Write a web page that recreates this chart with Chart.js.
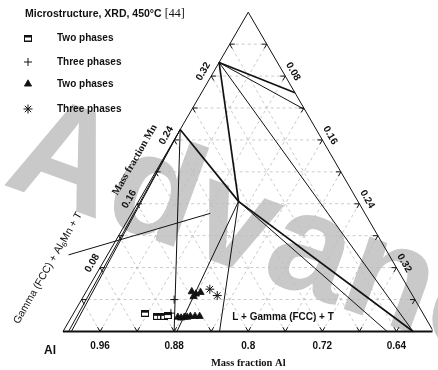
<!DOCTYPE html>
<html>
<head>
<meta charset="utf-8">
<script src="https://cdn.jsdelivr.net/npm/chart.js@4.4.1/dist/chart.umd.min.js"></script>
<style>
  html, body { margin: 0; padding: 0; background: #fff; }
  #wrap { width: 438px; height: 370px; position: relative; }
</style>
</head>
<body>
<div id="wrap"><canvas id="ternary"></canvas></div>
<script>
// compositions as mass fractions [Al, Mn]; the third element is 1 - Al - Mn
const twoPhaseSq = [[0.900, 0.023], [0.889, 0.019], [0.885, 0.019], [0.881, 0.019], [0.877, 0.020]];
const threePhaseCross = [[0.860, 0.040], [0.872, 0.023]];
const twoPhaseTri = [[0.836, 0.050], [0.833, 0.047], [0.827, 0.049], [0.837, 0.044],
  [0.867, 0.018], [0.864, 0.017], [0.860, 0.018], [0.857, 0.018], [0.853, 0.019], [0.848, 0.019], [0.843, 0.019]];
const threePhaseStar = [[0.815, 0.053], [0.811, 0.045]];

// phase boundaries / tie lines
const thickLines = [
  [[0.663, 0.337], [0.600, 0.299]],
  [[0.663, 0.337], [0.729, 0.163]],
  [[0.747, 0.253], [0.729, 0.163]],
  [[0.729, 0.163], [0.622, 0.000]]
];
const thinLines = [
  [[0.663, 0.337], [0.600, 0.278]],
  [[0.663, 0.337], [0.622, 0.000]],
  [[0.747, 0.253], [0.880, 0.000]],
  [[0.747, 0.253], [0.994, 0.000]],
  [[0.747, 0.253], [0.991, 0.000]],
  [[0.729, 0.163], [0.650, 0.000]],
  [[0.729, 0.163], [0.831, 0.000]],
  [[0.729, 0.163], [0.877, 0.000]],
  [[0.946, 0.096], [0.767, 0.148]]   // label pointer
];

// triangle corners and axis ticks
const corners = [[1.0, 0.0], [0.6, 0.4], [0.6, 0.0]];
const gridVals = [0.04, 0.08, 0.12, 0.16, 0.20, 0.24, 0.28, 0.32, 0.36];
const alTicks = [0.96, 0.88, 0.8, 0.72, 0.64];
const mnTicks = [0.08, 0.16, 0.24, 0.32];
const thirdTicks = [0.08, 0.16, 0.24, 0.32];

const SQ3 = Math.sqrt(3) / 2;
const tern = p => ({ x: (1 - p[0] - p[1]) + p[1] / 2, y: p[1] * SQ3 });

Chart.defaults.font.family = '"Liberation Sans", Arial, sans-serif';

function squareMarker() {
  const c = document.createElement('canvas');
  c.width = 8; c.height = 7;
  const g = c.getContext('2d');
  g.fillStyle = '#111';
  g.fillRect(0, 0, 8, 7);
  g.fillStyle = '#fff';
  g.fillRect(1, 3, 6, 3);
  return c;
}
const sqImg = squareMarker();

const lineSet = (seg, width, dash, color, order) => ({
  data: seg.map(tern),
  showLine: true,
  pointRadius: 0,
  borderColor: color,
  borderWidth: width,
  borderDash: dash,
  fill: false,
  order: order
});

const datasets = [];
// dashed grid
gridVals.forEach(v => {
  datasets.push(lineSet([[1 - v, v], [0.6, v]], 0.8, [3, 3], '#bdbdbd', 20));
  datasets.push(lineSet([[1 - v, 0], [0.6, 0.4 - v]], 0.8, [3, 3], '#bdbdbd', 20));
});
alTicks.concat([0.92, 0.84, 0.76, 0.68]).forEach(a => {
  datasets.push(lineSet([[a, 0], [a, 1 - a]], 0.8, [3, 3], '#bdbdbd', 20));
});
// triangle edges
datasets.push(lineSet([corners[0], corners[1], corners[2]], 1, [], '#111', 10));
datasets.push(lineSet([corners[0], corners[2]], 2, [], '#111', 10));
// boundaries
thickLines.forEach(s => datasets.push(lineSet(s, 1.7, [], '#111', 5)));
thinLines.forEach(s => datasets.push(lineSet(s, 1, [], '#111', 5)));

const markers = [
  { label: 'Two phases', data: twoPhaseSq, style: sqImg, r: 4, fill: '#111', bw: 1 },
  { label: 'Three phases', data: threePhaseCross, style: 'cross', r: 4, fill: '#111', bw: 1 },
  { label: 'Two phases', data: twoPhaseTri, style: 'triangle', r: 4.2, fill: '#111', bw: 0.8 },
  { label: 'Three phases', data: threePhaseStar, style: 'star', r: 4.5, fill: '#111', bw: 1 }
];
markers.forEach(m => datasets.push({
  label: m.label,
  data: m.data.map(tern),
  showLine: false,
  pointStyle: m.style,
  pointRadius: m.r,
  backgroundColor: m.fill,
  borderColor: '#111',
  borderWidth: m.bw,
  order: 1
}));

function rotText(ctx, txt, x, y, deg, font) {
  ctx.save();
  ctx.translate(x, y);
  ctx.rotate(deg * Math.PI / 180);
  ctx.font = font;
  ctx.textAlign = 'center';
  ctx.textBaseline = 'middle';
  ctx.fillText(txt, 0, 0);
  ctx.restore();
}

const ternaryDecor = {
  id: 'ternaryDecor',
  beforeDatasetsDraw(chart) {
    const ctx = chart.ctx;
    ctx.save();
    ctx.translate(1, 184);
    ctx.rotate(20 * Math.PI / 180);
    ctx.fillStyle = '#c9c9c9';
    ctx.font = 'bold 145px "Liberation Sans", Arial, sans-serif';
    ctx.textBaseline = 'alphabetic';
    ctx.fillText('Advanced', 0, 0);
    ctx.restore();
  },
  afterDatasetsDraw(chart) {
    const ctx = chart.ctx;
    const sx = chart.scales.x, sy = chart.scales.y;
    const px = p => { const t = tern(p); return [sx.getPixelForValue(t.x), sy.getPixelForValue(t.y)]; };
    ctx.save();
    ctx.strokeStyle = '#111';
    ctx.fillStyle = '#111';
    ctx.lineWidth = 1;
    const tick = (p, dirs) => {
      const [x, y] = px(p);
      dirs.forEach(d => {
        ctx.beginPath();
        ctx.moveTo(x, y);
        ctx.lineTo(x + d[0] * 5, y + d[1] * 5);
        ctx.stroke();
      });
    };
    gridVals.forEach(v => {
      tick([1 - v, 0], [[0.5, -SQ3], [-0.5, -SQ3]]);
      tick([1 - v, v], [[1, 0], [0.5, SQ3]]);
      tick([0.6, 0.4 - v], [[-1, 0], [-0.5, SQ3]]);
    });

    const bold = 'bold 10px "Liberation Sans", Arial, sans-serif';
    alTicks.forEach(a => {
      const [x] = px([a, 0]);
      rotText(ctx, String(a), x, 346, 0, bold);
    });
    mnTicks.forEach(m => {
      const [x, y] = px([1 - m, m]);
      rotText(ctx, m.toFixed(2), x - 0.866 * 9, y - 0.5 * 9, -60, bold);
    });
    thirdTicks.forEach(v => {
      const [x, y] = px([0.6, 0.4 - v]);
      rotText(ctx, v.toFixed(2), x + 0.866 * 9, y - 0.5 * 9, 60, bold);
    });

    // axis titles
    const serifB = 'bold 10.5px "Liberation Serif", "Times New Roman", serif';
    const [ax] = px([0.8, 0]);
    rotText(ctx, 'Mass fraction Al', ax, 363, 0, serifB);
    const [mx, my] = px([0.8, 0.2]);
    rotText(ctx, 'Mass fraction Mn', mx - 0.866 * 24, my - 0.5 * 24, -60, serifB);
    rotText(ctx, 'Al', 50, 351, 0, 'bold 12px "Liberation Sans", Arial, sans-serif');

    // region labels
    rotText(ctx, 'L + Gamma (FCC) + T', 283, 317, 0, bold);
    ctx.save();
    ctx.translate(48, 268);
    ctx.rotate(-60 * Math.PI / 180);
    ctx.textBaseline = 'middle';
    const fBig = '10.5px "Liberation Sans", Arial, sans-serif';
    const fSub = '7.5px "Liberation Sans", Arial, sans-serif';
    const parts = [['Gamma (FCC) + Al', fBig, 0], ['6', fSub, 3], ['Mn + T', fBig, 0]];
    let total = 0;
    parts.forEach(p => { ctx.font = p[1]; total += ctx.measureText(p[0]).width; });
    let cx = -total / 2;
    parts.forEach(p => {
      ctx.font = p[1];
      ctx.fillText(p[0], cx, p[2]);
      cx += ctx.measureText(p[0]).width;
    });
    ctx.restore();

    // legend
    ctx.textAlign = 'left';
    ctx.textBaseline = 'middle';
    ctx.font = 'bold 10.5px "Liberation Sans", Arial, sans-serif';
    const head = 'Microstructure, XRD, 450\u00B0C';
    ctx.fillText(head, 25, 14);
    const hw = ctx.measureText(head).width;
    ctx.font = '12px "Liberation Serif", "Times New Roman", serif';
    ctx.fillText(' [44]', 25 + hw, 14);
    const rows = [38, 62, 84, 109];
    markers.forEach((m, i) => {
      ctx.fillStyle = m.fill;
      ctx.strokeStyle = '#111';
      ctx.lineWidth = m.bw;
      Chart.helpers.drawPoint(ctx, { pointStyle: m.style, radius: m.r, rotation: 0, borderWidth: m.bw }, 28, rows[i]);
      ctx.fillStyle = '#111';
      ctx.font = bold;
      ctx.fillText(m.label, 57, rows[i]);
    });
    ctx.restore();
  }
};

new Chart(document.getElementById('ternary').getContext('2d'), {
  type: 'scatter',
  data: { datasets: datasets },
  options: {
    responsive: true,
    maintainAspectRatio: false,
    animation: false,
    events: [],
    layout: { padding: 0 },
    plugins: { legend: { display: false }, tooltip: { enabled: false } },
    elements: { line: { tension: 0 } },
    scales: {
      x: { type: 'linear', display: false, min: -59 / 950, max: 379 / 950 },
      y: { type: 'linear', display: false, min: -34 / 950, max: 336 / 950 }
    }
  },
  plugins: [ternaryDecor]
});
</script>
</body>
</html>
